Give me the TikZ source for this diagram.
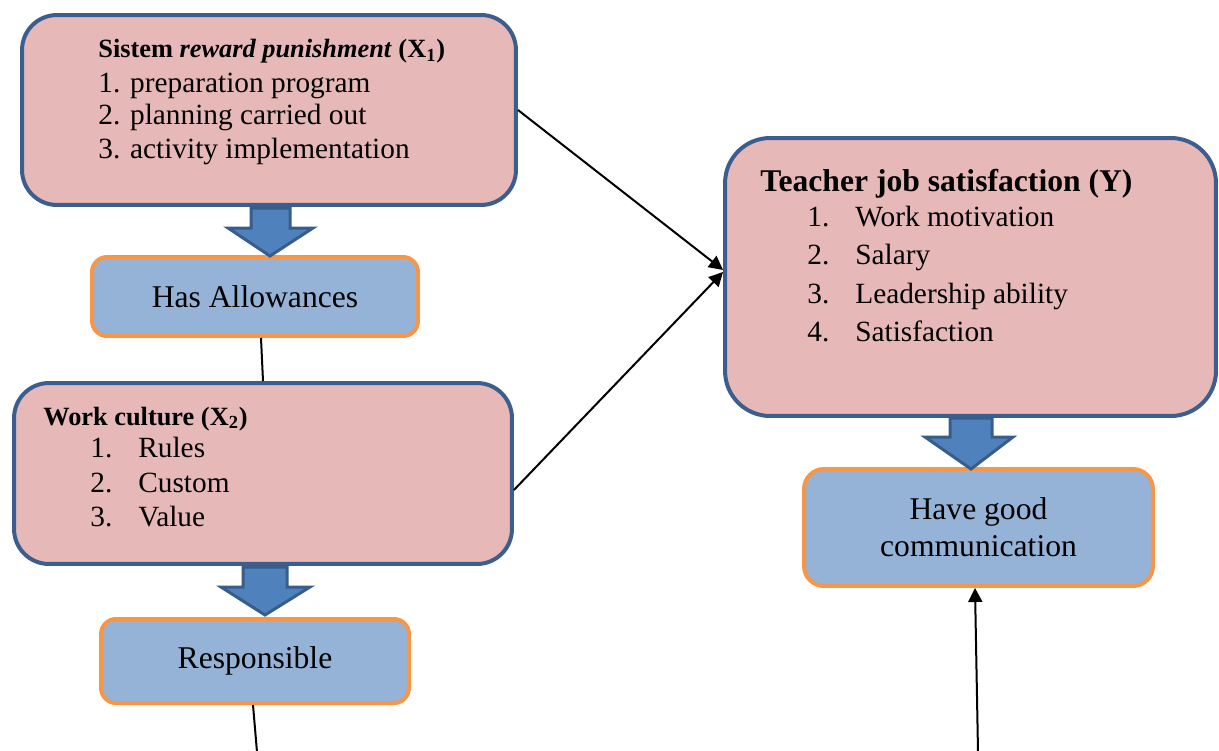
\documentclass[tikz,border=0pt]{standalone}
\usepackage{fontspec}
\setmainfont{Liberation Serif}
\usetikzlibrary{arrows.meta}
\definecolor{pinkfill}{HTML}{E6B9B8}
\definecolor{boxblue}{HTML}{3B5E8E}
\definecolor{lightblue}{HTML}{95B3D7}
\definecolor{boxorange}{HTML}{F79646}
\definecolor{arrowblue}{HTML}{4F81BD}
\definecolor{arrowedge}{HTML}{385D8A}
\begin{document}
\begin{tikzpicture}[x=0.02cm,y=-0.02cm,
  bigbox/.style={draw=boxblue, fill=pinkfill, line width=0.08cm, rounded corners=0.7cm, inner sep=0pt},
  smallbox/.style={draw=boxorange, fill=lightblue, line width=0.08cm, rounded corners=0.3cm, inner sep=0pt, align=center, font=\fontsize{18}{21}\selectfont},
  hdr/.style={anchor=base west, inner sep=0pt, font=\fontsize{15}{18}\selectfont\bfseries},
  item/.style={anchor=base west, inner sep=0pt, font=\fontsize{16.7}{20}\selectfont},
  blockarrow/.style={fill=arrowblue, draw=arrowedge, line width=0.06cm, line join=miter},
  conn/.style={line width=0.04cm, black},
  tipped/.style={-{Triangle[length=0.28cm,width=0.28cm]}}
]
\useasboundingbox (0,0) rectangle (1219,750);

% boxes
\node[bigbox, minimum width=9.88cm, minimum height=3.8cm] (X1) at (269,110) {};
\node[smallbox, minimum width=6.52cm, minimum height=1.58cm] (HA) at (255,296.5) {Has Allowances};
\node[bigbox, minimum width=9.96cm, minimum height=3.62cm] (WC) at (263,473.5) {};
\node[smallbox, minimum width=6.16cm, minimum height=1.68cm] (RS) at (255,661) {Responsible};
\node[bigbox, rounded corners=0.9cm, minimum width=9.82cm, minimum height=5.56cm] (Y) at (970.5,277) {};
\node[smallbox, rounded corners=0.4cm, minimum width=6.98cm, minimum height=2.34cm] (HC) at (978.5,527.5) {Have good\\communication};

% texts X1
\node[hdr] (x1h) at (98,58) {Sistem \textit{reward punishment} (X\textsubscript{1})};
\node[item] (x1a) at (98,92) {1. preparation program};
\node[item] (x1b) at (98,124) {2. planning carried out};
\node[item] (x1c) at (98,158) {3. activity implementation};

% texts WC
\node[hdr] (wch) at (43,425) {Work culture (X\textsubscript{2})};
\node[item] (wca) at (90,457) {\makebox[0.96cm][l]{1.}Rules};
\node[item] (wcb) at (90,492) {\makebox[0.96cm][l]{2.}Custom};
\node[item] (wcc) at (90,526) {\makebox[0.96cm][l]{3.}Value};

% texts Y
\node[hdr, font=\fontsize{18}{21}\selectfont\bfseries] (yh) at (760,191) {Teacher job satisfaction (Y)};
\node[item] (ya) at (807,226) {\makebox[0.96cm][l]{1.}Work motivation};
\node[item] (yb) at (807,264) {\makebox[0.96cm][l]{2.}Salary};
\node[item] (yc) at (807,303) {\makebox[0.96cm][l]{3.}Leadership ability};
\node[item] (yd) at (807,341) {\makebox[0.96cm][l]{4.}Satisfaction};

% block arrows
\draw[blockarrow] (251,208) -- (251,228) -- (228,228) -- (270,256) -- (313,228) -- (290,228) -- (290,208) -- cycle;
\draw[blockarrow] (243,567) -- (243,587) -- (221,587) -- (265,615) -- (310,587) -- (287,587) -- (287,567) -- cycle;
\draw[blockarrow] (950,418) -- (950,437) -- (925,437) -- (971,469) -- (1013,437) -- (992,437) -- (992,418) -- cycle;

% connectors
\coordinate (e1) at (257,752);
\coordinate (e2) at (978,752);
\draw[conn, tipped] (X1.east) -- ([yshift=0.14cm]Y.west);
\draw[conn, tipped] ([yshift=-0.33cm]WC.east) -- ([yshift=0.1cm]Y.west);
\draw[conn] ([xshift=0.12cm]HA.south) -- (WC.north);
\draw[conn] ([xshift=-0.04cm]RS.south) -- (e1);
\draw[conn, tipped] (e2) -- ([xshift=-0.07cm]HC.south);
\end{tikzpicture}
\end{document}
